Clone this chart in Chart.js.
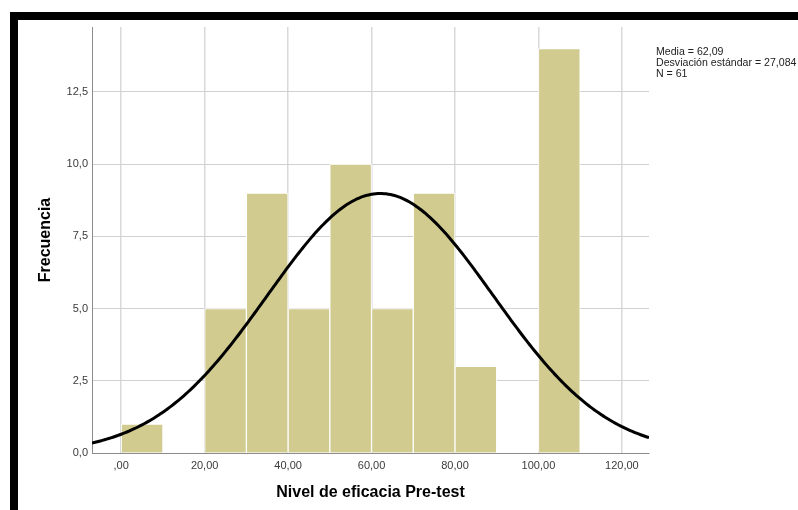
<!DOCTYPE html>
<html>
<head>
<meta charset="utf-8">
<script src="https://cdn.jsdelivr.net/npm/chart.js@4.4.1/dist/chart.umd.min.js"></script>
<style>
  html, body { margin: 0; padding: 0; background: #fff; width: 798px; height: 510px; overflow: hidden; }
  #frame { position: absolute; left: 10px; top: 12px; right: 0; bottom: 0;
           border-left: 8px solid #000; border-top: 8px solid #000; }
  #wrap { position: absolute; left: 0; top: 0; width: 798px; height: 510px; }
</style>
</head>
<body>
<div id="frame"></div>
<div id="wrap"><canvas id="c" width="798" height="510"></canvas></div>
<script>
// Histogram bins (lower edges) and their frequencies
const binStarts   = [0, 10, 20, 30, 40, 50, 60, 70, 80, 90, 100];
const frequencies = [1, 0, 5, 9, 5, 10, 5, 9, 3, 0, 14];
const binWidth = 10;

// Axis ticks
const xTickValues = [0, 20, 40, 60, 80, 100, 120];
const yTickValues = [0, 2.5, 5, 7.5, 10, 12.5];

// Summary statistics shown beside the plot
const mean = 62.09;
const stdDev = 27.084;
const count = 61;
const statLines = ['Media = 62,09', 'Desviación estándar = 27,084', 'N = 61'];

const xMin = -7, xMax = 126.5, yMax = 14.75;

// Bars centred in their bins
const barPoints = binStarts.map((b, i) => ({ x: b + binWidth / 2, y: frequencies[i] }));

// Fitted normal curve scaled to the histogram (N * bin width * density)
const curvePoints = [];
for (let x = xMin; x <= xMax + 1e-9; x += 0.5) {
  const z = (x - mean) / stdDev;
  const y = count * binWidth * Math.exp(-0.5 * z * z) / (stdDev * Math.sqrt(2 * Math.PI));
  curvePoints.push({ x: x, y: y });
}

const comma = (v, d) => v.toFixed(d).replace('.', ',');

const statsText = {
  id: 'statsText',
  afterDraw(chart) {
    const ctx = chart.ctx;
    ctx.save();
    ctx.font = '10.6px "Liberation Sans", Arial, sans-serif';
    ctx.fillStyle = '#222';
    ctx.textBaseline = 'middle';
    ctx.textAlign = 'left';
    statLines.forEach((t, i) => ctx.fillText(t, 656, 52 + i * 11));
    ctx.restore();
  }
};

const FONT = '"Liberation Sans", Arial, sans-serif';

new Chart(document.getElementById('c'), {
  data: {
    datasets: [
      {
        type: 'line',
        data: curvePoints,
        borderColor: '#000',
        borderWidth: 3,
        pointRadius: 0,
        tension: 0,
        fill: false,
        order: 0
      },
      {
        type: 'bar',
        data: barPoints,
        backgroundColor: '#D1CB8F',
        borderColor: '#fff',
        borderWidth: 1,
        borderSkipped: 'start',
        categoryPercentage: 1,
        barPercentage: 1,
        grouped: false,
        order: 1
      }
    ]
  },
  options: {
    responsive: false,
    animation: false,
    devicePixelRatio: 1,
    layout: { padding: { left: 0, top: 27, right: 149, bottom: 0 } },
    plugins: { legend: { display: false }, tooltip: { enabled: false } },
    scales: {
      x: {
        type: 'linear',
        min: xMin,
        max: xMax,
        offset: false,
        afterBuildTicks: s => { s.ticks = xTickValues.map(v => ({ value: v })); },
        afterFit: s => { s.height = 57; },
        grid: { color: '#d9d9d9', lineWidth: 1.5, drawTicks: false, offset: false },
        border: { color: '#8c8c8c', width: 1 },
        ticks: {
          padding: 6, autoSkip: false, maxRotation: 0,
          color: '#3a3a3a', font: { family: FONT, size: 11 },
          callback: v => v === 0 ? ',00' : comma(v, 2)
        },
        title: {
          display: true, text: 'Nivel de eficacia Pre-test', color: '#000',
          font: { family: FONT, size: 16, weight: 'bold' },
          padding: { top: 0, bottom: 8 }
        }
      },
      y: {
        type: 'linear',
        min: 0,
        max: yMax,
        afterBuildTicks: s => { s.ticks = yTickValues.map(v => ({ value: v })); },
        afterFit: s => { s.width = 92; },
        grid: { color: '#d0d0d0', lineWidth: 1, drawTicks: false },
        border: { color: '#8c8c8c', width: 1 },
        ticks: {
          padding: 4, color: '#3a3a3a', font: { family: FONT, size: 11 },
          callback: v => comma(v, 1)
        },
        title: {
          display: true, text: 'Frecuencia', color: '#000',
          font: { family: FONT, size: 16, weight: 'bold' },
          padding: { top: 36, bottom: 0 }
        }
      }
    }
  },
  plugins: [statsText]
});
</script>
</body>
</html>
